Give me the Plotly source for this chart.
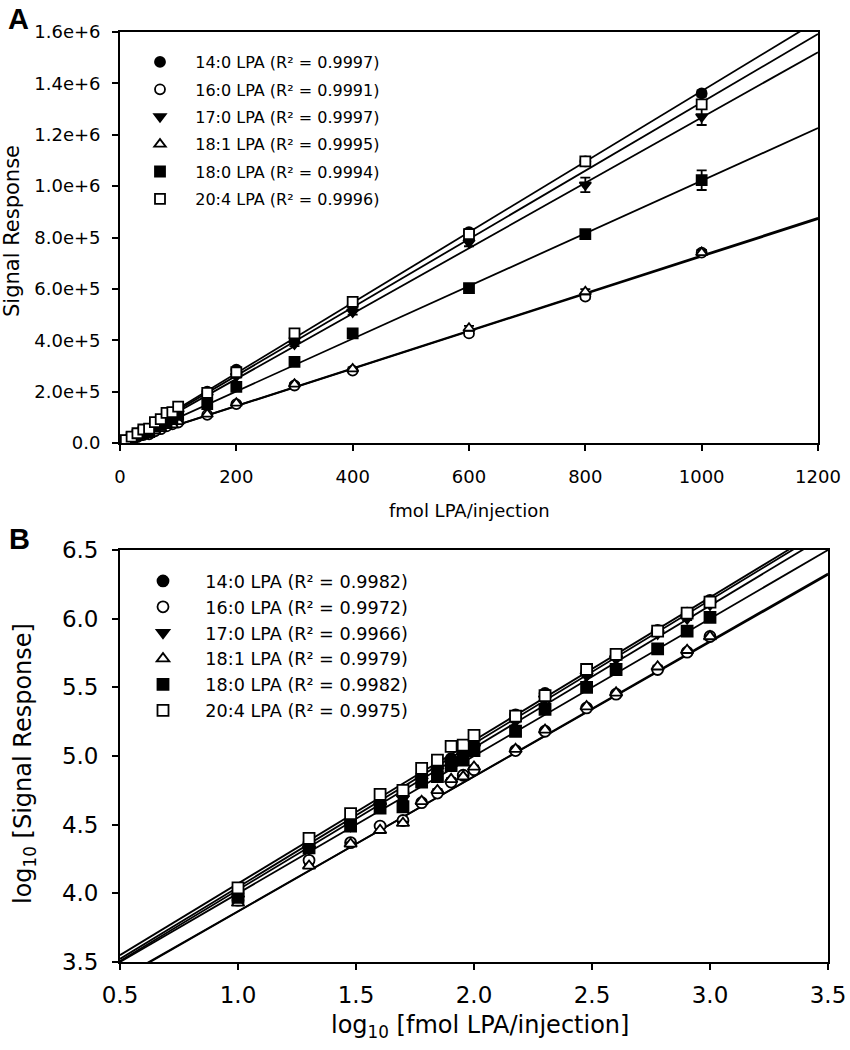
import numpy as np
import plotly.graph_objects as go

# ---------------- data ----------------
conc = [10, 20, 30, 40, 50, 60, 70, 80, 90, 100, 150, 200, 300, 400, 600, 800, 1000]

names = ["14:0 LPA", "16:0 LPA", "17:0 LPA", "18:1 LPA", "18:0 LPA", "20:4 LPA"]
r2_lin = ["0.9997", "0.9991", "0.9997", "0.9995", "0.9994", "0.9996"]
r2_log = ["0.9982", "0.9972", "0.9966", "0.9979", "0.9982", "0.9975"]

sig_14_0 = [9800, 21900, 33100, 45700, 55000, 72400, 83200, 95500, 107200, 120200, 199500, 285100, 407400, 537000, 820400, 1096000, 1361000]
sig_16_0 = [8910, 17400, 23400, 30900, 33900, 45700, 53700, 64600, 72400, 79400, 109600, 151400, 223900, 281800, 426600, 570000, 741300]
sig_17_0 = [9100, 21000, 31000, 43000, 49000, 66000, 78000, 90000, 100000, 115000, 180000, 260000, 385000, 510000, 780000, 1005000, 1270000]
sig_18_1 = [8510, 15850, 22900, 28800, 32400, 46800, 56200, 67600, 70800, 83200, 112200, 154900, 229100, 288400, 446700, 588800, 741300]
sig_18_0 = [9330, 21400, 30900, 41700, 42700, 64600, 70800, 85100, 93300, 109600, 151400, 218800, 316000, 426600, 602600, 812800, 1023000]
sig_20_4 = [10960, 25100, 38000, 52500, 56200, 81300, 93300, 117500, 120200, 141300, 195000, 275400, 426600, 549500, 812800, 1096000, 1318000]

err_14_0 = [300, 500, 800, 1000, 1200, 1500, 1800, 2000, 2200, 2500, 4000, 5000, 7000, 9000, 12000, 12000, 12000]
err_16_0 = [300, 500, 700, 900, 1000, 1200, 1400, 1600, 1800, 2000, 3000, 4000, 5000, 7000, 9000, 10000, 10000]
err_17_0 = [300, 500, 800, 1000, 1200, 1500, 1800, 2000, 2200, 2500, 4000, 5000, 8000, 10000, 14000, 28000, 32000]
err_18_1 = [300, 400, 600, 700, 800, 1000, 1200, 1400, 1500, 1800, 2500, 3000, 5000, 6000, 9000, 10000, 10000]
err_18_0 = [300, 500, 700, 900, 1000, 1400, 1500, 1800, 2000, 2500, 3500, 5000, 7000, 9000, 12000, 14000, 38000]
err_20_4 = [300, 600, 900, 1200, 1300, 1800, 2000, 2500, 2600, 3000, 4000, 6000, 9000, 11000, 15000, 15000, 16000]

# regression lines (slope, intercept)
fitA_slope = [1373, 728, 1272, 732, 1025, 1330]
fitA_icpt = [-3000, -2000, -5000, -2000, -4000, -4000]
fitB_slope = [1.045, 0.980, 1.035, 0.985, 1.000, 1.042]
fitB_icpt = [3.000, 2.890, 2.990, 2.882, 3.000, 3.029]

signals = [sig_14_0, sig_16_0, sig_17_0, sig_18_1, sig_18_0, sig_20_4]
errors = [err_14_0, err_16_0, err_17_0, err_18_1, err_18_0, err_20_4]

symbols = ["circle", "circle", "triangle-down", "triangle-up", "square", "square"]
fills = ["black", "white", "black", "white", "black", "white"]

xA_range = [0, 1200]
yA_range = [0, 1.6e6]
xB_range = [0.5, 3.5]
yB_range = [3.5, 6.5]

yA_ticks = [0, 2e5, 4e5, 6e5, 8e5, 1.0e6, 1.2e6, 1.4e6, 1.6e6]
yA_text = ["0.0", "2.0e+5", "4.0e+5", "6.0e+5", "8.0e+5", "1.0e+6", "1.2e+6", "1.4e+6", "1.6e+6"]
xA_ticks = [0, 200, 400, 600, 800, 1000, 1200]
xB_ticks = [0.5, 1.0, 1.5, 2.0, 2.5, 3.0, 3.5]
yB_ticks = [3.5, 4.0, 4.5, 5.0, 5.5, 6.0, 6.5]

FONT = "DejaVu Sans, Liberation Sans, Arial, sans-serif"
W, H = 850, 1050

fig = go.Figure()

# ---- fit lines (drawn first) ----
xa = np.array(xA_range, dtype=float)
xb = np.array(xB_range, dtype=float)
for i in range(6):
    fig.add_trace(go.Scatter(x=xa, y=fitA_slope[i] * xa + fitA_icpt[i], mode="lines",
                             line=dict(color="black", width=1.8), showlegend=False,
                             hoverinfo="skip", xaxis="x", yaxis="y"))
    fig.add_trace(go.Scatter(x=xb, y=fitB_slope[i] * xb + fitB_icpt[i], mode="lines",
                             line=dict(color="black", width=1.8), showlegend=False,
                             hoverinfo="skip", xaxis="x2", yaxis="y2"))

# ---- data points ----
for i in range(6):
    s = np.array(signals[i], dtype=float)
    e = np.array(errors[i], dtype=float)
    fig.add_trace(go.Scatter(
        x=conc, y=s, mode="markers",
        name=f"&nbsp;&nbsp;&nbsp;{names[i]} (R² = {r2_lin[i]})",
        legend="legend", legendgroup=f"a{i}",
        marker=dict(symbol=symbols[i], size=10, color=fills[i], line=dict(color="black", width=1.8)),
        error_y=dict(type="data", array=e, color="black", thickness=1.8, width=5),
        xaxis="x", yaxis="y"))
for i in range(6):
    s = np.array(signals[i], dtype=float)
    e = np.array(errors[i], dtype=float)
    ly = np.log10(s)
    fig.add_trace(go.Scatter(
        x=np.log10(conc), y=ly, mode="markers",
        name=f"&nbsp;&nbsp;&nbsp;&nbsp;{names[i]} (R² = {r2_log[i]})",
        legend="legend2", legendgroup=f"b{i}",
        marker=dict(symbol=symbols[i], size=11, color=fills[i], line=dict(color="black", width=1.8)),
        error_y=dict(type="data", array=np.log10(s + e) - ly, arrayminus=ly - np.log10(s - e),
                     color="black", thickness=1.8, width=5),
        xaxis="x2", yaxis="y2"))

axis_common = dict(showline=True, linecolor="black", linewidth=1.8, mirror=True,
                   ticks="outside", ticklen=6, tickwidth=1.6, tickcolor="black",
                   showgrid=False, zeroline=False, color="black", automargin=False)


def ann(text, x, y, size, angle=0):
    return dict(text=text, x=x / W, y=1 - y / H, xref="paper", yref="paper", showarrow=False,
                xanchor="center", yanchor="middle", textangle=angle, font=dict(size=size))


fig.update_layout(
    width=W, height=H,
    margin=dict(l=0, r=0, t=0, b=0),
    paper_bgcolor="white", plot_bgcolor="white",
    font=dict(family=FONT, color="black"),
    xaxis=dict(domain=[120 / W, 818 / W], anchor="y", range=xA_range, tickvals=xA_ticks,
               tickfont=dict(size=18), ticklabelstandoff=10, **axis_common),
    yaxis=dict(domain=[1 - 443 / H, 1 - 32 / H], anchor="x", range=yA_range, tickvals=yA_ticks,
               ticktext=yA_text, tickfont=dict(size=18), ticklabelstandoff=8, **axis_common),
    xaxis2=dict(domain=[120 / W, 828 / W], anchor="y2", range=xB_range, tickvals=xB_ticks,
                tickformat=".1f", tickfont=dict(size=23), ticklabelstandoff=5, **axis_common),
    yaxis2=dict(domain=[1 - 962 / H, 1 - 550 / H], anchor="x2", range=yB_range, tickvals=yB_ticks,
                tickformat=".1f", tickfont=dict(size=23), ticklabelstandoff=9, **axis_common),
    legend=dict(x=140 / W, y=1 - 45 / H, xanchor="left", yanchor="top", bgcolor="rgba(0,0,0,0)",
                font=dict(size=16), tracegroupgap=3.6, itemsizing="trace"),
    legend2=dict(x=143 / W, y=1 - 563 / H, xanchor="left", yanchor="top", bgcolor="rgba(0,0,0,0)",
                 font=dict(size=17.6), tracegroupgap=0, itemsizing="trace"),
    annotations=[
        dict(text="<b>A</b>", x=6 / W, y=1 - 1 / H, xref="paper", yref="paper", xanchor="left",
             yanchor="top", showarrow=False, font=dict(family="Liberation Sans, Arial", size=29)),
        dict(text="<b>B</b>", x=7 / W, y=1 - 521 / H, xref="paper", yref="paper", xanchor="left",
             yanchor="top", showarrow=False, font=dict(family="Liberation Sans, Arial", size=29)),
        ann("fmol LPA/injection", 469, 510, 18),
        ann("Signal Response", 12, 231, 21, angle=-90),
        ann("log<sub>10</sub> [fmol LPA/injection]", 480, 1026, 24),
        ann("log<sub>10</sub> [Signal Response]", 24, 764, 24, angle=-90),
    ],
)

fig.write_html("out.html", config={"displayModeBar": False},
               post_script="document.body.style.margin='0';")
